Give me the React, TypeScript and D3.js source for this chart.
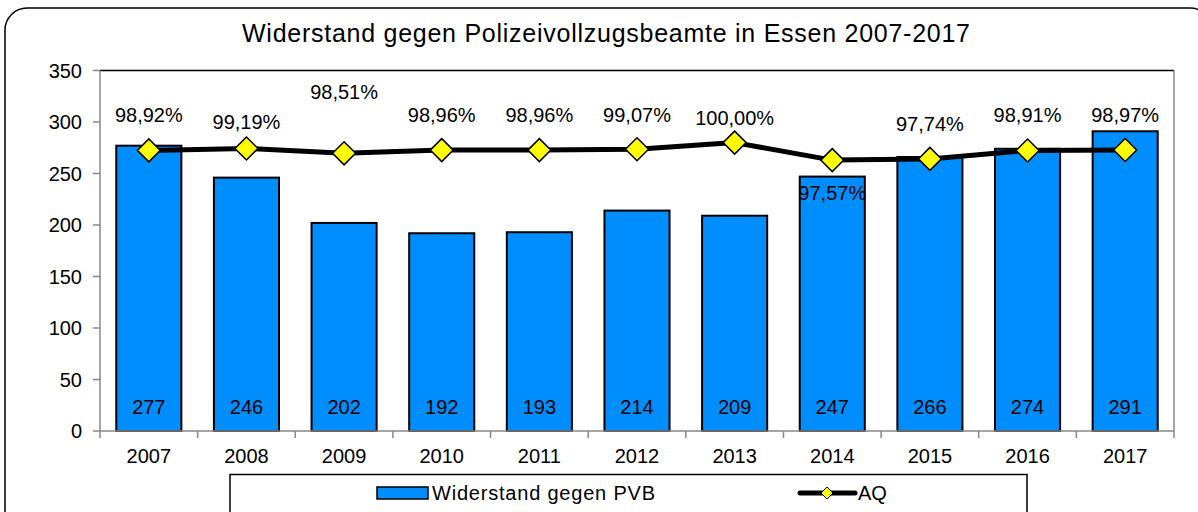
import React from "react";
import * as d3 from "d3";

const years = ["2007", "2008", "2009", "2010", "2011", "2012", "2013", "2014", "2015", "2016", "2017"];
const widerstand = [277, 246, 202, 192, 193, 214, 209, 247, 266, 274, 291];
const aq = [98.92, 99.19, 98.51, 98.96, 98.96, 99.07, 100.0, 97.57, 97.74, 98.91, 98.97];
const yTicks = [0, 50, 100, 150, 200, 250, 300, 350];
const title = "Widerstand gegen Polizeivollzugsbeamte in Essen 2007-2017";
const legendLabels = ["Widerstand gegen PVB", "AQ"];

// label placement offsets (px relative to marker) — styling
const aqLabelOffset = [-35, -26, -61, -35, -35, -34, -25, 33, -35, -35, -35];

const W = 1198;
const H = 512;
const FONT = "'Liberation Sans', Arial, sans-serif";

export default function App() {
  const left = 100, right = 1174, top = 70.5, bottom = 431;
  const x = d3.scaleBand<string>().domain(years).range([left, right]).padding(0);
  const y = d3.scaleLinear().domain([0, 350]).range([bottom, top]);
  const y2 = d3.scaleLinear().domain([60, 110]).range([bottom, top]);
  const bw = x.bandwidth() / 1.5;
  const cx = (yr: string) => (x(yr) as number) + x.bandwidth() / 2;

  const line = d3
    .line<number>()
    .x((_, i) => cx(years[i]))
    .y((d) => y2(d));

  const diamond = (px: number, py: number, r: number) =>
    `M${px},${py - r}L${px + r},${py}L${px},${py + r}L${px - r},${py}Z`;

  return (
    <svg
      width={W}
      height={H}
      style={{ position: "absolute", left: 0, top: 0, fontFamily: FONT }}
    >
      <rect x={0} y={0} width={W} height={H} fill="#fff" />
      <rect x={5} y={8} width={1207} height={525} rx={22} ry={22} fill="#fff" stroke="#000" strokeWidth={1.5} />
      <text x={242} y={42} fontSize={25} fill="#000" textLength={728} lengthAdjust="spacing">
        {title}
      </text>

      {/* plot area borders */}
      <line x1={left} x2={right} y1={top} y2={top} stroke="#000" strokeWidth={1.5} />
      <line x1={right} x2={right} y1={top} y2={bottom} stroke="#888" strokeWidth={1.5} />

      {/* bars */}
      {widerstand.map((v, i) => (
        <rect
          key={years[i]}
          x={cx(years[i]) - bw / 2}
          y={y(v)}
          width={bw}
          height={y(0) - y(v)}
          fill="#008eff"
          stroke="#000"
          strokeWidth={2}
        />
      ))}
      {widerstand.map((v, i) => (
        <text key={"v" + i} x={cx(years[i])} y={414} textAnchor="middle" fontSize={20} fill="#000">
          {v}
        </text>
      ))}

      {/* y axis */}
      <line x1={left} x2={left} y1={top} y2={bottom} stroke="#888" strokeWidth={1.5} />
      {yTicks.map((t) => (
        <g key={t}>
          <line x1={left - 7} x2={left} y1={y(t)} y2={y(t)} stroke="#888" strokeWidth={1.5} />
          <text x={82} y={y(t) + 7} textAnchor="end" fontSize={20} fill="#000">
            {t}
          </text>
        </g>
      ))}

      {/* x axis */}
      <line x1={left} x2={right} y1={bottom} y2={bottom} stroke="#888" strokeWidth={1.5} />
      {years.map((yr) => (
        <line key={"t" + yr} x1={x(yr)} x2={x(yr)} y1={bottom} y2={bottom + 7} stroke="#888" strokeWidth={1.5} />
      ))}
      <line x1={right} x2={right} y1={bottom} y2={bottom + 7} stroke="#888" strokeWidth={1.5} />
      {years.map((yr) => (
        <text key={"l" + yr} x={cx(yr)} y={463} textAnchor="middle" fontSize={20} fill="#000">
          {yr}
        </text>
      ))}

      {/* AQ line */}
      <path d={line(aq) || ""} fill="none" stroke="#000" strokeWidth={5} strokeLinejoin="round" />
      {aq.map((v, i) => (
        <path key={"m" + i} d={diamond(cx(years[i]), y2(v), 11.5)} fill="#ffff00" stroke="#000" strokeWidth={1.5} />
      ))}
      {aq.map((v, i) => (
        <text
          key={"p" + i}
          x={cx(years[i])}
          y={y2(v) + aqLabelOffset[i] + 7}
          textAnchor="middle"
          fontSize={20}
          fill="#000"
        >
          {v.toFixed(2).replace(".", ",") + "%"}
        </text>
      ))}

      {/* legend */}
      <rect x={230} y={474.5} width={797} height={50} fill="#fff" stroke="#000" strokeWidth={1.5} />
      <rect x={377} y={487} width={51} height={12} fill="#008eff" stroke="#000" strokeWidth={1.5} />
      <text x={432} y={500} fontSize={20} fill="#000" textLength={223} lengthAdjust="spacing">
        {legendLabels[0]}
      </text>
      <line x1={800} x2={855} y1={493} y2={493} stroke="#000" strokeWidth={5} strokeLinecap="round" />
      <path d={diamond(827, 493, 6)} fill="#ffff00" stroke="#000" strokeWidth={1} />
      <text x={858} y={500} fontSize={20} fill="#000">
        {legendLabels[1]}
      </text>
    </svg>
  );
}
